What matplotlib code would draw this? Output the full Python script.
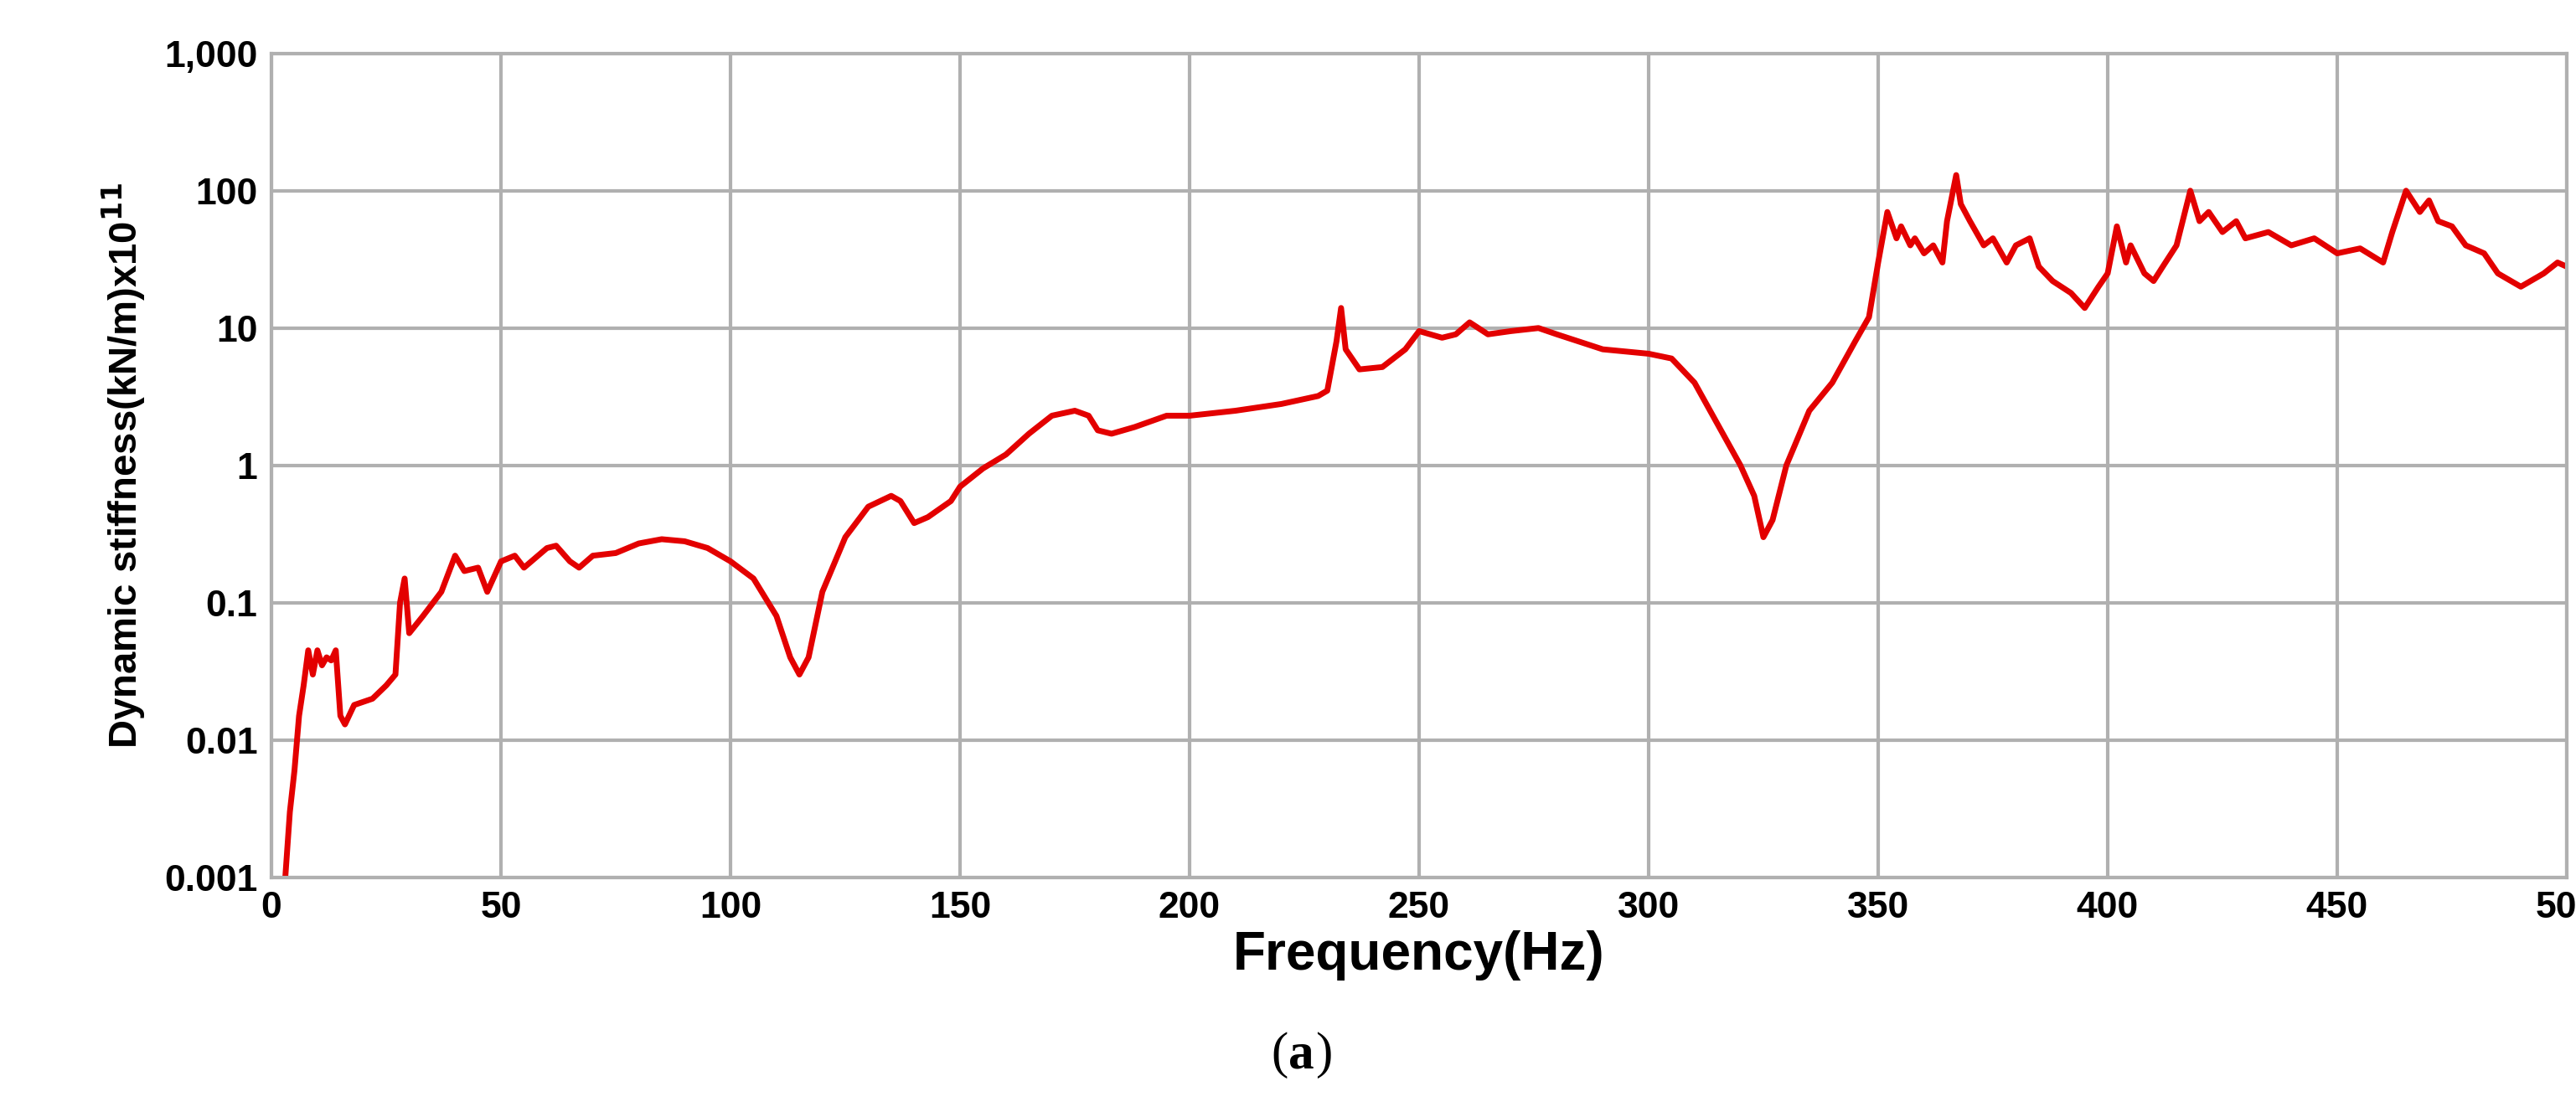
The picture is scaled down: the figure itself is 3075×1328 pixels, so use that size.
import matplotlib
matplotlib.use("Agg")
import matplotlib.pyplot as plt
from matplotlib.ticker import FixedLocator, FixedFormatter

points = [(3,0.001),(4,0.003),(5,0.006),(6,0.015),(7,0.025),(8,0.045),(9,0.03),(10,0.045),(11,0.035),(12,0.04),(13,0.038),(14,0.045),(15,0.015),(16,0.013),(18,0.018),(22,0.02),(25,0.025),(27,0.03),(28,0.1),(29,0.15),(30,0.06),(33,0.08),(37,0.12),(40,0.22),(42,0.17),(45,0.18),(47,0.12),(50,0.2),(53,0.22),(55,0.18),(60,0.25),(62,0.26),(65,0.2),(67,0.18),(70,0.22),(75,0.23),(80,0.27),(85,0.29),(90,0.28),(95,0.25),(100,0.2),(105,0.15),(110,0.08),(113,0.04),(115,0.03),(117,0.04),(120,0.12),(125,0.3),(130,0.5),(135,0.6),(137,0.55),(140,0.38),(143,0.42),(148,0.55),(150,0.7),(155,0.95),(160,1.2),(165,1.7),(170,2.3),(175,2.5),(178,2.3),(180,1.8),(183,1.7),(188,1.9),(195,2.3),(200,2.3),(210,2.5),(220,2.8),(228,3.2),(230,3.5),(232,8),(233,14),(234,7),(237,5),(242,5.2),(247,7),(250,9.5),(255,8.5),(258,9),(261,11),(265,9),(270,9.5),(276,10),(280,9),(290,7),(300,6.5),(305,6),(310,4),(315,2),(320,1),(323,0.6),(325,0.3),(327,0.4),(330,1),(335,2.5),(340,4),(345,8),(348,12),(350,30),(352,70),(354,45),(355,55),(357,40),(358,45),(360,35),(362,40),(364,30),(365,60),(367,130),(368,80),(370,60),(373,40),(375,45),(378,30),(380,40),(383,45),(385,28),(388,22),(392,18),(395,14),(398,20),(400,25),(402,55),(404,30),(405,40),(408,25),(410,22),(412,28),(415,40),(418,100),(420,60),(422,70),(425,50),(428,60),(430,45),(435,50),(440,40),(445,45),(450,35),(455,38),(460,30),(462,50),(465,100),(468,70),(470,85),(472,60),(475,55),(478,40),(482,35),(485,25),(490,20),(495,25),(498,30),(500,28)]
freq = [p[0] for p in points]
stiff = [p[1] for p in points]

xticks = [0,50,100,150,200,250,300,350,400,450,500]
yticks = [0.001,0.01,0.1,1,10,100,1000]
ylabels = ["0.001","0.01","0.1","1","10","100","1,000"]

plt.rcParams['font.family'] = ['Liberation Sans', 'DejaVu Sans']
fig = plt.figure(figsize=(30.75,13.28), dpi=100)
ax = fig.add_axes([0.1054, 0.211, 0.891, 0.741])
ax.plot(freq, stiff, color='#e30000', lw=5)
ax.set_yscale('log')
ax.set_xlim(0,500); ax.set_ylim(0.001,1000)
ax.set_xticks(xticks)
ax.yaxis.set_major_locator(FixedLocator(yticks))
ax.yaxis.set_major_formatter(FixedFormatter(ylabels))
ax.yaxis.set_minor_locator(FixedLocator([]))
ax.grid(True, color='#b0b0b0', lw=3)
ax.set_axisbelow(True)
for s in ax.spines.values():
    s.set_color('#b0b0b0'); s.set_linewidth(3)
ax.tick_params(labelsize=32, length=0, pad=12)
for l in ax.get_xticklabels()+ax.get_yticklabels():
    l.set_fontweight('bold')
ax.set_xlabel("Frequency(Hz)", fontsize=46, fontweight='bold', labelpad=4)
ax.set_ylabel("Dynamic stiffness(kN/m)x10$^{\\mathbf{11}}$", fontsize=34, fontweight='bold', labelpad=14)
fig.text(0.5, 0.03, "(", fontsize=44, family='Liberation Serif', ha='right', va='bottom')
fig.text(0.5, 0.03, "a", fontsize=44, family='Liberation Serif', fontweight='bold', ha='left', va='bottom')
fig.text(0.5105, 0.03, ")", fontsize=44, family='Liberation Serif', ha='left', va='bottom')
fig.savefig("out.png", dpi=100)
